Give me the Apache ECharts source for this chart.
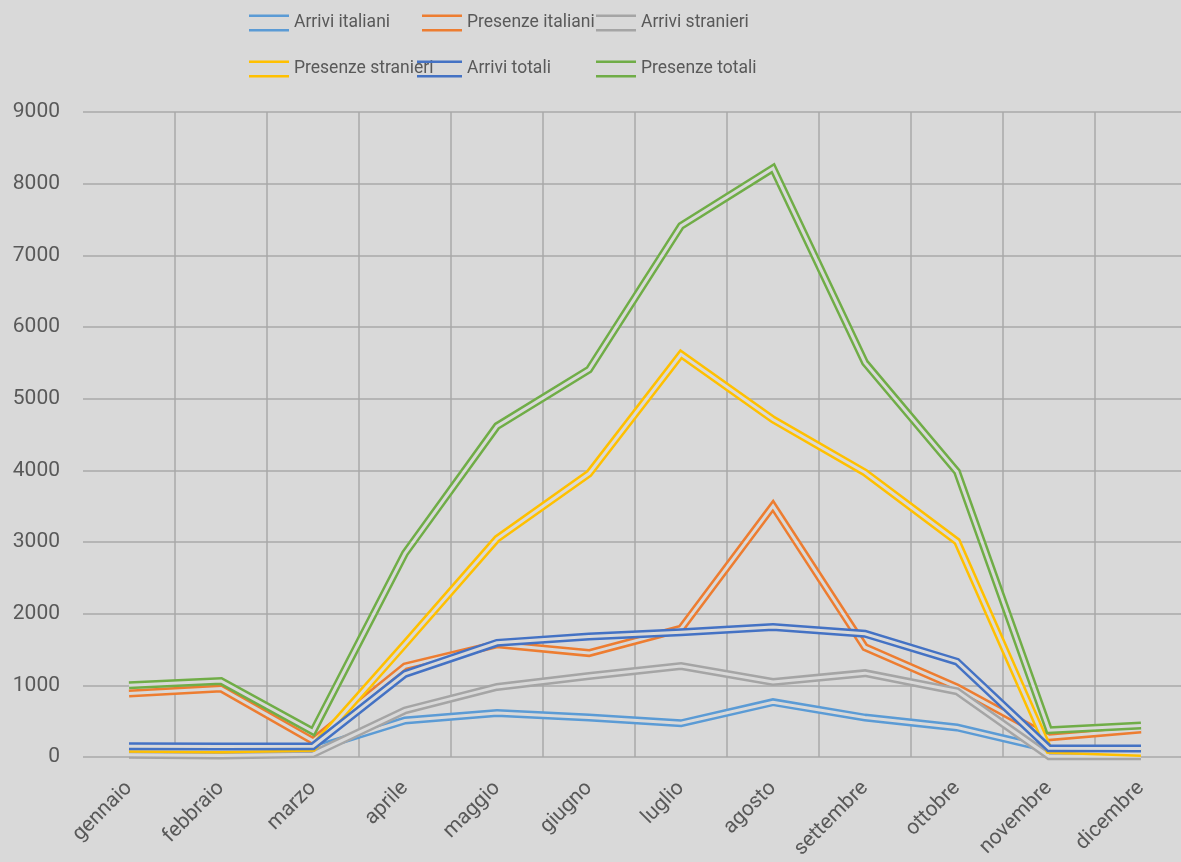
<!DOCTYPE html>
<html lang="it">
<head>
<meta charset="utf-8">
<title>Arrivi e presenze mensili</title>
<script src="https://cdn.jsdelivr.net/npm/echarts@6/dist/echarts.min.js"></script>
<style>
  html, body { margin: 0; padding: 0; background: #d9d9d9; }
  #chart { width: 1181px; height: 862px; }
</style>
</head>
<body>
<div id="chart"></div>
<script>
// Mesi dell'anno (asse delle categorie)
const mesi = ['gennaio', 'febbraio', 'marzo', 'aprile', 'maggio', 'giugno',
              'luglio', 'agosto', 'settembre', 'ottobre', 'novembre', 'dicembre'];

// Valori mensili per serie
const arriviItaliani    = [120, 125, 110, 510, 615, 550, 470, 765, 550, 412, 110, 110];
const presenzeItaliani  = [885, 955, 225, 1265, 1572, 1450, 1790, 3505, 1532, 972, 275, 385];
const arriviStranieri   = [30, 20, 40, 650, 978, 1130, 1270, 1048, 1170, 918, 12, 10];
const presenzeStranieri = [115, 105, 130, 1578, 3045, 3955, 5620, 4710, 3970, 3008, 100, 55];
const arriviTotali      = [150, 145, 150, 1160, 1593, 1680, 1740, 1813, 1720, 1330, 122, 120];
const presenzeTotali    = [1000, 1060, 355, 2843, 4617, 5405, 7410, 8215, 5502, 3980, 375, 440];

// Asse dei valori
const tickMin = 0, tickMax = 9000, tickStep = 1000;

const BG = '#d9d9d9';
const TEXT = '#595959';
const GRID = '#a8a8a8';
const FONT = 'Roboto, "Open Sans", sans-serif';

const serie = [
  { name: 'Arrivi italiani',    color: '#5b9bd5', data: arriviItaliani },
  { name: 'Presenze italiani',  color: '#ed7d31', data: presenzeItaliani },
  { name: 'Arrivi stranieri',   color: '#a5a5a5', data: arriviStranieri },
  { name: 'Presenze stranieri', color: '#ffc000', data: presenzeStranieri },
  { name: 'Arrivi totali',      color: '#4472c4', data: arriviTotali },
  { name: 'Presenze totali',    color: '#70ad47', data: presenzeTotali }
];

// Linea doppia: tratto largo colorato con un tratto sottile del colore di sfondo sopra
const series = [];
serie.forEach(function (s) {
  series.push({
    type: 'line', name: s.name, data: s.data, symbol: 'none',
    color: s.color,
    lineStyle: { color: s.color, width: 8, join: 'miter', miterLimit: 10 },
    silent: true
  });
  series.push({
    type: 'line', name: s.name + ' \u200b', data: s.data, symbol: 'none',
    color: BG,
    lineStyle: { color: BG, width: 3, join: 'miter', miterLimit: 10 },
    silent: true
  });
});

// Legenda su tre colonne e due righe
const legendPos = [
  { x: 249, y: 14, w: 40 }, { x: 422, y: 14, w: 40 }, { x: 596, y: 14, w: 40 },
  { x: 249, y: 60, w: 40 }, { x: 417, y: 60, w: 45 }, { x: 596, y: 60, w: 40 }
];
const legend = serie.map(function (s, i) {
  const p = legendPos[i];
  return {
    data: [s.name],
    left: p.x, top: p.y, padding: 0,
    itemWidth: p.w, itemHeight: 17,
    icon: 'path://M0,0H40V2.4H0Z M0,14.6H40V17H0Z',
    symbolKeepAspect: false,
    itemStyle: { borderWidth: 0 },
    selectedMode: false,
    textStyle: { color: TEXT, fontSize: 17.5, fontFamily: FONT, padding: [0, 0, 4, 0] }
  };
});

const chart = echarts.init(document.getElementById('chart'), null, { renderer: 'canvas' });
chart.setOption({
  backgroundColor: BG,
  animation: false,
  legend: legend,
  grid: {
    left: 83, top: 112, width: 1104, height: 645,
    containLabel: false, outerBoundsMode: 'none'
  },
  xAxis: {
    type: 'category',
    data: mesi,
    boundaryGap: true,
    axisLine: { show: false },
    axisTick: { show: false },
    splitLine: { show: true, showMinLine: false, lineStyle: { color: GRID, width: 1.5 } },
    axisLabel: {
      rotate: 45, margin: 28, interval: 0,
      color: TEXT, fontSize: 21, fontFamily: FONT
    }
  },
  yAxis: {
    type: 'value',
    min: tickMin, max: tickMax, interval: tickStep,
    axisLine: { show: false },
    axisTick: { show: false },
    splitLine: { show: true, lineStyle: { color: GRID, width: 1.5 } },
    axisLabel: {
      margin: 23, color: TEXT, fontSize: 21, fontFamily: FONT,
      formatter: function (v) { return String(v); }
    }
  },
  series: series
});
</script>
</body>
</html>
